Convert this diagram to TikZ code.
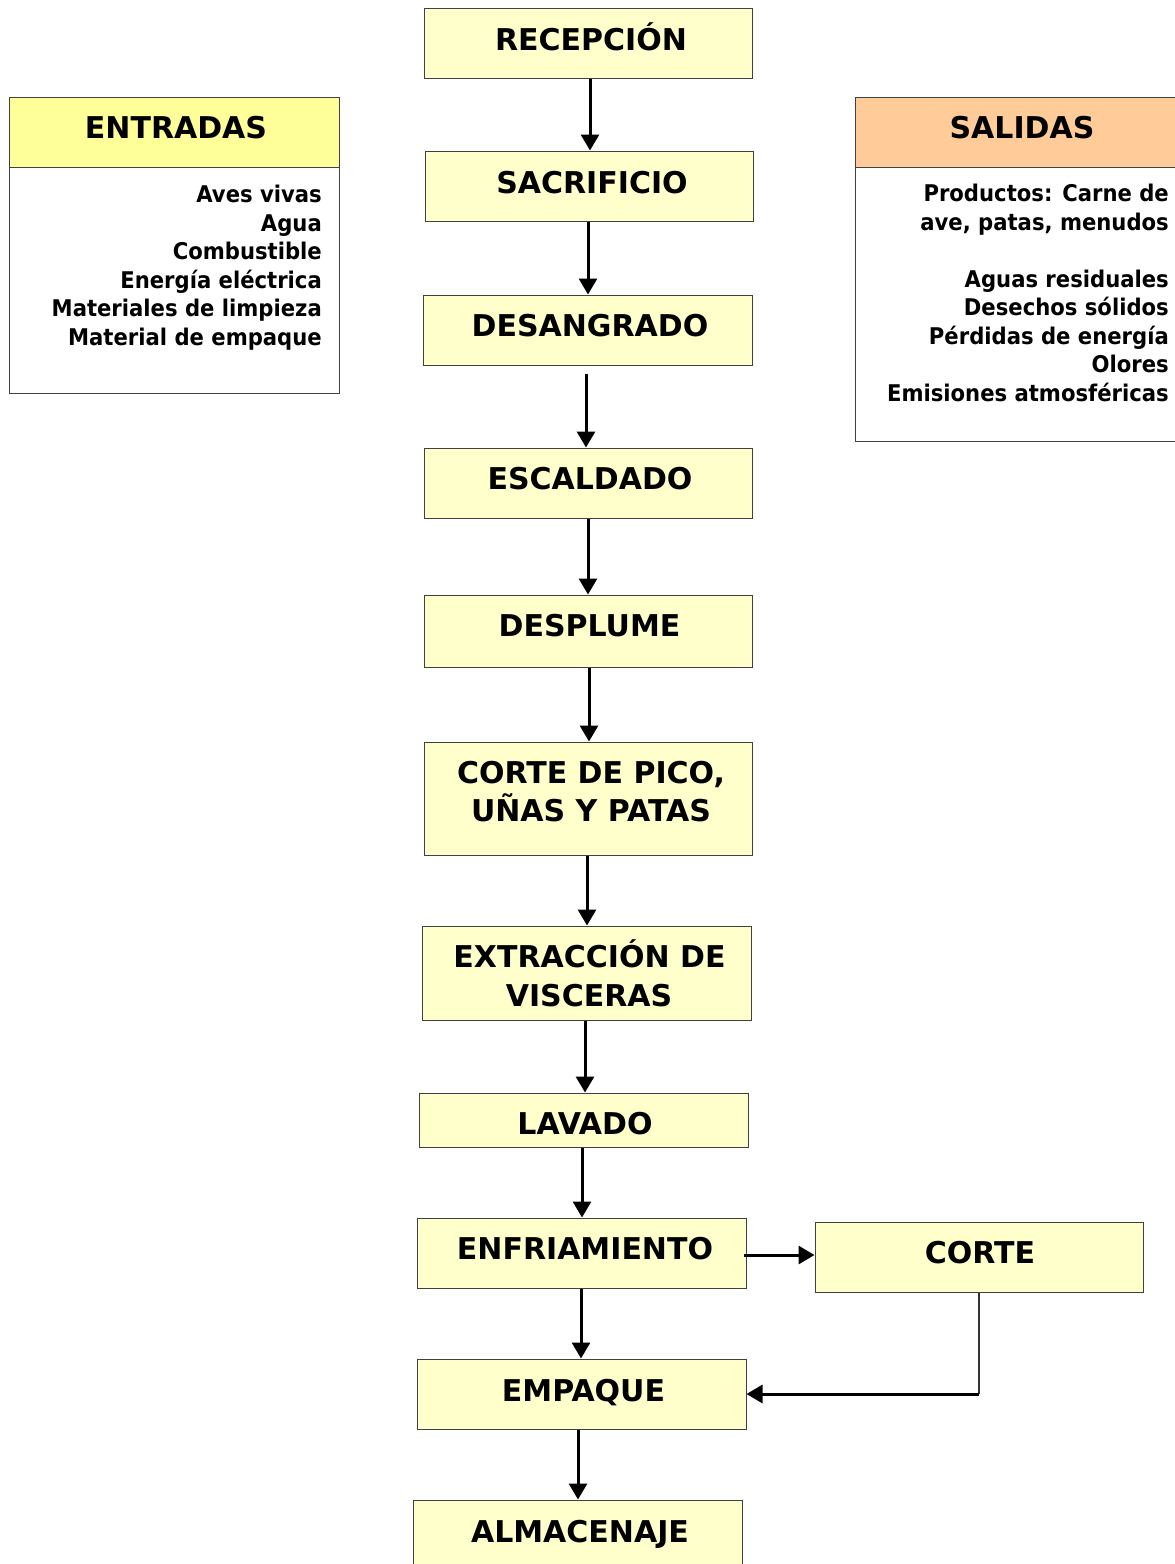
\documentclass[tikz,border=0pt]{standalone}
\usepackage{fontspec}
\setmainfont{DejaVu Sans}
\newfontfamily\bodyf{DejaVu Sans}[FakeStretch=0.92]
\usetikzlibrary{arrows.meta}
\definecolor{boxfill}{HTML}{FFFFCC}
\definecolor{infill}{HTML}{FFFF99}
\definecolor{outfill}{HTML}{FFCC99}
\definecolor{edge}{HTML}{404040}
\begin{document}
\begin{tikzpicture}[x=1pt,y=-1pt,
  stepbox/.style={draw=edge, line width=1pt, fill=boxfill, rectangle, inner sep=0pt, minimum width=328pt, minimum height=70pt},
  headin/.style={draw=edge, line width=1pt, fill=infill, rectangle, inner sep=0pt, minimum width=330pt, minimum height=70pt},
  headout/.style={draw=edge, line width=1pt, fill=outfill, rectangle, inner sep=0pt, minimum width=330pt, minimum height=70pt},
  bodybox/.style={draw=edge, line width=1pt, fill=white, rectangle, inner sep=0pt, minimum width=330pt},
  lbl/.style={inner sep=0pt, font=\fontsize{30}{36}\selectfont\bfseries, text height=21.9pt, text depth=0pt},
  list/.style={inner sep=0pt, align=right, font=\bodyf\fontsize{23}{28.5}\selectfont\bfseries},
  arr/.style={line width=3pt, -{Triangle[width=18pt 0 0,length=16pt 0 0]}},
  thinline/.style={line width=1.2pt, draw=black!80}]
\useasboundingbox (0,0) rectangle (1175,1564);
\fill[white] (0,0) rectangle (1175,1564);

% process boxes
\node[stepbox] (rec) at (588,43) {};
\node[stepbox] (sac) at (589,186) {};
\node[stepbox, minimum width=329pt] (des) at (587.5,330) {};
\node[stepbox] (esc) at (588,483) {};
\node[stepbox, minimum height=72pt] (dpl) at (588,631) {};
\node[stepbox, minimum height=113pt] (cpi) at (588,798.5) {};
\node[stepbox, minimum width=329pt, minimum height=94pt] (ext) at (586.5,973) {};
\node[stepbox, minimum width=329pt, minimum height=54pt] (lav) at (583.5,1120) {};
\node[stepbox, minimum width=329pt] (enf) at (581.5,1253) {};
\node[stepbox, minimum width=329pt] (emp) at (581.5,1394) {};
\node[stepbox, minimum width=329pt] (alm) at (577.5,1535) {};
\node[stepbox] (cor) at (979,1257) {};

% labels
\node[lbl] (recT) at (591,39.5) {RECEPCIÓN};
\node[lbl] (sacT) at (592,183) {SACRIFICIO};
\node[lbl] (desT) at (590,326) {DESANGRADO};
\node[lbl] (escT) at (590,479) {ESCALDADO};
\node[lbl] (dplT) at (589.5,626) {DESPLUME};
\node[lbl] (cpiT1) at (591,773) {CORTE DE PICO,};
\node[lbl] (cpiT2) at (591,811) {UÑAS Y PATAS};
\node[lbl] (extT1) at (589.5,957) {EXTRACCIÓN DE};
\node[lbl] (extT2) at (589,996) {VISCERAS};
\node[lbl] (lavT) at (585,1124) {LAVADO};
\node[lbl] (enfT) at (585,1249) {ENFRIAMIENTO};
\node[lbl] (empT) at (583.5,1391) {EMPAQUE};
\node[lbl] (almT) at (580,1532) {ALMACENAJE};
\node[lbl] (corT) at (980,1253) {CORTE};

% entradas / salidas
\node[bodybox, minimum height=226pt] (inB) at (174,280) {};
\node[headin] (inH) at (174,132) {};
\node[lbl] (inT) at (176,128) {ENTRADAS};
\node[list, anchor=north east] (inL) at (322,185) {Aves vivas\\Agua\\Combustible\\Energía eléctrica\\Materiales de limpieza\\Material de empaque};

\node[bodybox, minimum height=274pt] (outB) at (1020,304) {};
\node[headout] (outH) at (1020,132) {};
\node[lbl] (outT) at (1022,128) {SALIDAS};
\node[list, anchor=north east] (outL) at (1169,184) {Productos: Carne de\\ave, patas, menudos\\[28.5pt]Aguas residuales\\Desechos sólidos\\Pérdidas de energía\\Olores\\Emisiones atmosféricas};

% connectors
\draw[arr] ([xshift=2pt]rec.south) -- ([xshift=2pt]rec.south |- sac.north);
\draw[arr] ([xshift=-1pt]sac.south) -- ([xshift=-1pt]sac.south |- des.north);
\draw[arr] ([xshift=-1.5pt,yshift=-8pt]des.south) -- ([xshift=-1.5pt]des.south |- esc.north);
\draw[arr] (esc.south) -- (esc.south |- dpl.north);
\draw[arr] ([xshift=1pt]dpl.south) -- ([xshift=1pt]dpl.south |- cpi.north);
\draw[arr] ([xshift=-1pt]cpi.south) -- ([xshift=-1pt]cpi.south |- ext.north);
\draw[arr] ([xshift=-1.5pt]ext.south) -- ([xshift=-1.5pt]ext.south |- lav.north);
\draw[arr] ([xshift=-1.5pt]lav.south) -- ([xshift=-1.5pt]lav.south |- enf.north);
\draw[arr] ([xshift=-0.5pt]enf.south) -- ([xshift=-0.5pt]enf.south |- emp.north);
\draw[arr] ([xshift=-3.5pt]emp.south) -- ([xshift=-3.5pt]emp.south |- alm.north);
\draw[arr] ([xshift=-3pt,yshift=-2pt]enf.east) -- ([yshift=-2pt]enf.east -| cor.west);
\coordinate (bend) at (cor.south |- emp.east);
\draw[thinline] (cor.south) -- (bend);
\draw[arr] (bend) -- (emp.east);
\end{tikzpicture}
\end{document}
